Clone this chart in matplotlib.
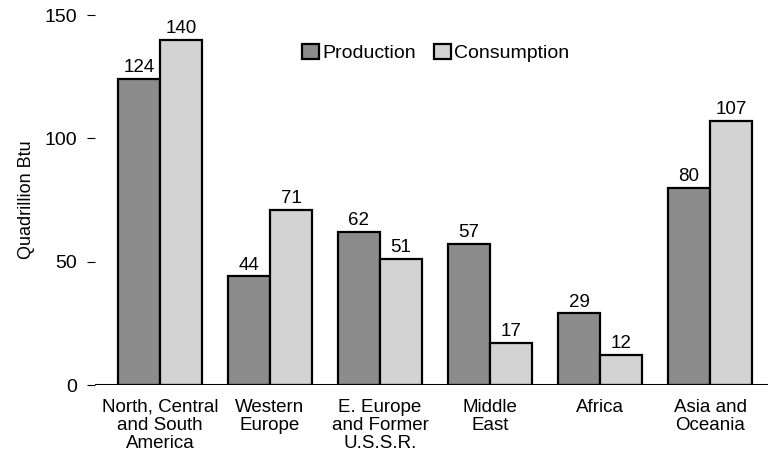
import numpy as np
import matplotlib.pyplot as plt
from matplotlib.patches import Patch

# DATA
regions = ["North, Central\nand South\nAmerica", "Western\nEurope",
           "E. Europe\nand Former\nU.S.S.R.", "Middle\nEast", "Africa",
           "Asia and\nOceania"]
production = [124, 44, 62, 57, 29, 80]
consumption = [140, 71, 51, 17, 12, 107]

plt.rcParams["font.family"] = ["Liberation Sans", "DejaVu Sans"]

fig = plt.figure(figsize=(7.68, 4.55), dpi=100)
ax = fig.add_axes([95 / 768, 70 / 455, 1 - 95 / 768, 370 / 455])

x = np.arange(len(regions))
w = 0.382

b1 = ax.bar(x - w / 2, production, w, color="#8c8c8c", edgecolor="black",
            linewidth=1.6, zorder=2)
b2 = ax.bar(x + w / 2, consumption, w, color="#d3d3d3", edgecolor="black",
            linewidth=1.6, zorder=2)

for bars in (b1, b2):
    for rect in bars:
        h = rect.get_height()
        ax.text(rect.get_x() + rect.get_width() / 2, h + 1.2, f"{h:g}",
                ha="center", va="bottom", fontsize=13.5)

ax.axhline(0, color="black", linewidth=2.2, zorder=3)

ax.set_xlim(-0.59, 5.527)
ax.set_ylim(0, 150)
ax.set_yticks([0, 50, 100, 150])
ax.tick_params(axis="y", direction="out", length=6, width=0.8, pad=7,
               labelsize=14)
ax.set_xticks(x)
ax.set_xticklabels(regions, fontsize=13.5, linespacing=1.08)
ax.tick_params(axis="x", length=0, pad=10)

for s in ax.spines.values():
    s.set_visible(False)

ax.set_ylabel("Quadrillion Btu", fontsize=13, labelpad=7)

# LEGEND
handles = [Patch(facecolor="#8c8c8c", edgecolor="black", linewidth=1.6),
           Patch(facecolor="#d3d3d3", edgecolor="black", linewidth=1.6)]
fig.legend(handles, ["Production", "Consumption"], ncol=2, frameon=False,
           loc="center", bbox_to_anchor=(436 / 768, 1 - 53 / 455),
           fontsize=14, handlelength=0.85, handleheight=0.85,
           handletextpad=0.2, columnspacing=0.9)

fig.savefig("out.png", dpi=100)
